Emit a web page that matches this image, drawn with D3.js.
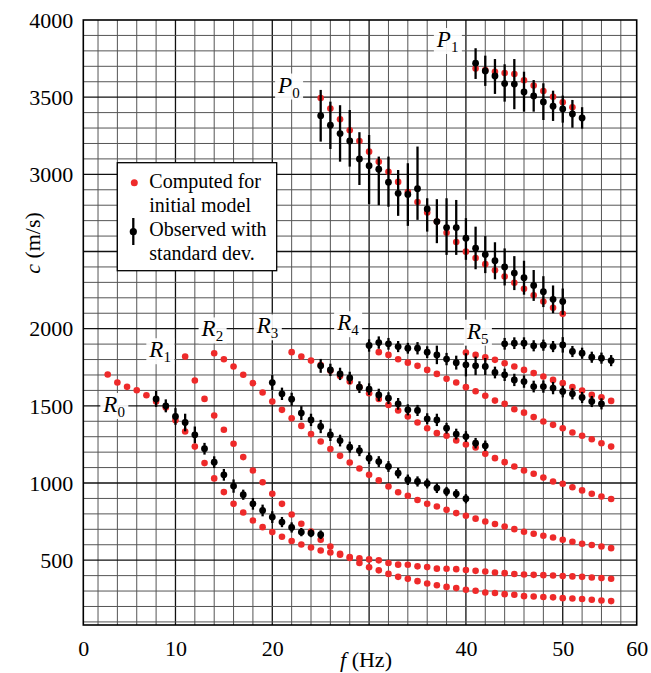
<!DOCTYPE html>
<html><head><meta charset="utf-8">
<script src="https://cdn.jsdelivr.net/npm/d3@7"></script>
<style>body{margin:0;background:#fff}svg{display:block}</style>
</head><body>
<svg id="chart" width="651" height="673"></svg>
<script>
// ---------- DATA (frequency in Hz, phase velocity c in m/s) ----------
const xTicks = [0, 10, 20, 40, 50, 60];
const yTicks = [500, 1000, 1500, 2000, 3000, 3500, 4000];

// computed for initial model (red), sampled every 1 Hz from the start frequency
const p0CompStart = 25;
const p0Comp = [3495,3426,3357,3286,3216,3147,3082,3017,2951,2886,2821,2752,2694,2622,2562,2499,2458,2418,2378,2338,2298,2258,2217,2176,2136,2096];
const p1CompStart = 41;
const p1Comp = [3685,3675,3665,3657,3650,3609,3575,3540,3503,3467,3434];
const r0CompStart = 3;
const r0Comp = [1703,1651,1623,1601,1569,1528,1489,1407,1334,1236,1129,1030,941,865,809,757,714,682,652,624,602,582,563,550,535,514,482,454,434,411,392,379,364,349,338,327,319,308,302,291,287,280,276,267,265,261,259,254,252,248,244,239,235];
const r1CompStart = 11;
const r1Comp = [1819,1664,1545,1437,1345,1254,1168,1081,1005,930,865,796,736,685,632,589,541,520,512,505,499,482,471,470,460,455,445,444,442,436,431,427,420,416,410,407,405,403,401,397,395,392,388,384,380];
const r2CompStart = 14;
const r2Comp = [1841,1802,1755,1701,1647,1586,1528,1474,1420,1370,1317,1269,1220,1176,1133,1094,1053,1017,977,940,917,890,865,848,826,805,788,769,751,734,718,701,684,671,658,647,632,619,606,598,589,578];
const r3CompStart = 22;
const r3Comp = [1848,1819,1793,1765,1728,1694,1657,1621,1582,1545,1506,1470,1431,1392,1355,1323,1306,1275,1250,1230,1189,1161,1135,1107,1081,1060,1035,1010,995,973,952,930,913,896];
const r4CompStart = 31;
const r4Comp = [1848,1830,1802,1780,1759,1733,1707,1675,1651,1621,1595,1565,1534,1513,1478,1456,1427,1399,1377,1355,1327,1306,1284,1258,1236];
const r5CompStart = 40;
const r5Comp = [1846,1830,1815,1798,1776,1755,1733,1712,1690,1668,1647,1621,1599,1571,1556,1532];

// observed with standard deviation (black): value, lower and upper end of bar
const p0ObsStart = 25;
const p0Obs   = [3380,3318,3264,3216,3100,3056,3033,2949,2877,2870,2907,2776,2694,2655,2655,2586,2521,2480,2440,2400,2360,2330,2280,2240,2190,2176];
const p0ObsLo = [3212,3164,3082,3050,2931,2808,2800,2790,2731,2666,2705,2629,2554,2478,2478,2446,2385,2360,2320,2280,2250,2220,2180,2140,2100,2090];
const p0ObsHi = [3547,3471,3448,3417,3273,3255,3115,3115,3028,3072,3180,2845,2839,2845,2834,2716,2661,2600,2560,2520,2470,2440,2380,2340,2280,2260];
const p1ObsStart = 41;
const p1Obs   = [3720,3670,3637,3588,3585,3534,3508,3469,3441,3424,3391,3365];
const p1ObsLo = [3618,3573,3521,3471,3422,3406,3406,3352,3346,3335,3302,3296];
const p1ObsHi = [3817,3769,3747,3713,3747,3665,3611,3590,3542,3510,3482,3435];
const r0ObsStart = 8;
const r0Obs   = [1545,1500,1431,1392,1312,1222,1135,1053,980,924,865,822,779,747,712,682,675,665];
const r0ObsSd = [52,42,54,57,54,38,38,38,43,33,38,38,38,33,33,27,26,28];
const r2ObsStart = 20;
const r2Obs   = [1651,1578,1543,1453,1409,1366,1312,1275,1232,1210,1161,1139,1107,1064,1021,1010,997,967,945,930,898];
const r2ObsSd = [48,40,42,45,40,43,40,38,36,36,38,35,35,34,34,33,32,32,30,30,30];
const r3ObsStart = 25;
const r3Obs   = [1759,1733,1707,1681,1621,1608,1571,1550,1513,1474,1470,1416,1409,1355,1317,1301,1258,1241];
const r3ObsSd = [45,40,40,40,38,38,40,38,38,36,36,36,40,35,35,35,34,34];
const r4ObsStart = 30;
const r4Obs   = [1891,1910,1902,1884,1873,1873,1848,1830,1803,1780,1766,1759,1755,1716,1701,1668,1657,1625,1625,1615,1593,1578,1554,1528,1513];
const r4ObsSd = [40,40,38,36,35,40,38,60,40,45,75,60,55,38,40,40,40,38,40,40,38,36,36,36,36];
const r5ObsStart = 44;
const r5Obs   = [1902,1906,1906,1889,1893,1884,1895,1852,1841,1815,1809,1793];
const r5ObsSd = [38,38,38,36,36,36,50,36,36,36,36,36];

const modeLabels = ["P","P","R","R","R","R","R","R"];
const modeSubs   = ["0","1","0","1","2","3","4","5"];
const labelF = [20.6, 37.0, 2.55, 7.3, 12.7, 18.4, 26.7, 40.1];
const labelC = [3530, 3825, 1460, 1815, 1950, 1970, 1990, 1935];

const legendTexts = ["Computed for", "initial model", "Observed with", "standard dev."];

// ---------- DRAWING ----------
const svg = d3.select("#chart");
const W = 651, H = 673;
const pL = 83.3, pR = 636.7, pT = 20, pB = 625;
const RED = "#ee2a2a";
const FONT = "'Liberation Serif', 'Times New Roman', serif";

const x = d3.scaleLinear().domain([0.48, 57.64]).range([pL, pR]).clamp(true);
const y = d3.scaleLinear().domain([80, 4000]).range([pB, pT]);

svg.append("rect").attr("width", W).attr("height", H).attr("fill", "#fff");

// grid
const g = svg.append("g");
const vLines = d3.range(2, 57, 2);
const hLines = d3.range(100, 4000, 100);
g.selectAll("line.v").data(vLines).join("line").attr("class", "v")
  .attr("x1", d => x(d)).attr("x2", d => x(d))
  .attr("y1", pT).attr("y2", pB)
  .attr("stroke", d => d % 10 === 0 ? "#111" : "#555")
  .attr("stroke-width", d => d % 10 === 0 ? 1.3 : 1);
g.selectAll("line.h").data(hLines).join("line").attr("class", "h")
  .attr("x1", pL).attr("x2", pR)
  .attr("y1", d => y(d)).attr("y2", d => y(d))
  .attr("stroke", d => d % 500 === 0 ? "#111" : "#555")
  .attr("stroke-width", d => d % 500 === 0 ? 1.3 : 1);

svg.append("rect").attr("x", pL).attr("y", pT)
  .attr("width", pR - pL).attr("height", pB - pT)
  .attr("fill", "none").attr("stroke", "#000").attr("stroke-width", 1.6);

// axes
const xa = svg.append("g").attr("transform", `translate(0,${pB})`)
  .call(d3.axisBottom(x).tickValues(xTicks).tickSize(0).tickFormat(d3.format("d")));
xa.select(".domain").remove();
xa.selectAll("text").attr("y", 31).attr("dy", 0)
  .attr("font-family", FONT).attr("font-size", 22).attr("fill", "#000");

const ya = svg.append("g").attr("transform", `translate(${pL},0)`)
  .call(d3.axisLeft(y).tickValues(yTicks).tickSize(0).tickFormat(d3.format("d")));
ya.select(".domain").remove();
ya.selectAll("text").attr("x", -10).attr("dy", "0.33em")
  .attr("font-family", FONT).attr("font-size", 22).attr("fill", "#000");

// axis titles
const xt = svg.append("text").attr("x", 366).attr("y", 667).attr("text-anchor", "middle")
  .attr("font-family", FONT).attr("font-size", 22);
xt.append("tspan").attr("font-style", "italic").text("f");
xt.append("tspan").text(" (Hz)");
const yt = svg.append("text").attr("transform", "translate(40,243) rotate(-90)")
  .attr("text-anchor", "middle").attr("font-family", FONT).attr("font-size", 22);
yt.append("tspan").attr("font-style", "italic").text("c");
yt.append("tspan").text(" (m/s)");

// mode labels with white patches
modeLabels.forEach((m, i) => {
  const lx = x(labelF[i]), ly = y(labelC[i]);
  svg.append("rect").attr("x", lx - 3).attr("y", ly - 19).attr("width", 28).attr("height", 26)
    .attr("fill", "#fff").attr("opacity", 0.92);
  const t = svg.append("text").attr("x", lx).attr("y", ly)
    .attr("font-family", FONT).attr("font-size", 23);
  t.append("tspan").attr("font-style", "italic").text(m);
  t.append("tspan").attr("dy", 5).attr("font-size", 15).text(modeSubs[i]);
});

// observed series
const observed = [
  {s: p0ObsStart, v: p0Obs, lo: p0ObsLo, hi: p0ObsHi},
  {s: p1ObsStart, v: p1Obs, lo: p1ObsLo, hi: p1ObsHi},
  {s: r0ObsStart, v: r0Obs, sd: r0ObsSd},
  {s: r2ObsStart, v: r2Obs, sd: r2ObsSd},
  {s: r3ObsStart, v: r3Obs, sd: r3ObsSd},
  {s: r4ObsStart, v: r4Obs, sd: r4ObsSd},
  {s: r5ObsStart, v: r5Obs, sd: r5ObsSd}
];
const computed = [
  {s: p0CompStart, v: p0Comp}, {s: p1CompStart, v: p1Comp},
  {s: r0CompStart, v: r0Comp}, {s: r1CompStart, v: r1Comp},
  {s: r2CompStart, v: r2Comp}, {s: r3CompStart, v: r3Comp},
  {s: r4CompStart, v: r4Comp}, {s: r5CompStart, v: r5Comp}
];

const redPts = [];
computed.forEach(sr => sr.v.forEach((c, i) => redPts.push({f: sr.s + i, c})));
const obsPts = [];
observed.forEach(sr => sr.v.forEach((c, i) => obsPts.push({
  f: sr.s + i, c,
  lo: sr.lo ? sr.lo[i] : c - sr.sd[i],
  hi: sr.hi ? sr.hi[i] : c + sr.sd[i]
})));

svg.append("g").selectAll("circle").data(redPts).join("circle")
  .attr("cx", d => x(d.f)).attr("cy", d => y(d.c)).attr("r", 3.3).attr("fill", RED);

const og = svg.append("g");
og.selectAll("line").data(obsPts).join("line")
  .attr("x1", d => x(d.f)).attr("x2", d => x(d.f))
  .attr("y1", d => y(d.lo)).attr("y2", d => y(d.hi))
  .attr("stroke", "#000").attr("stroke-width", 2.3);
og.selectAll("circle").data(obsPts).join("circle")
  .attr("cx", d => x(d.f)).attr("cy", d => y(d.c)).attr("r", 3.4).attr("fill", "#000");

// legend
const lg = svg.append("g");
lg.append("rect").attr("x", 117.3).attr("y", 162.7).attr("width", 159.4).attr("height", 108)
  .attr("fill", "#fff").attr("stroke", "#000").attr("stroke-width", 1.3);
lg.append("circle").attr("cx", 134.3).attr("cy", 182.7).attr("r", 3.5).attr("fill", RED);
lg.append("line").attr("x1", 133.3).attr("x2", 133.3).attr("y1", 218).attr("y2", 245)
  .attr("stroke", "#000").attr("stroke-width", 2.3);
lg.append("circle").attr("cx", 133.3).attr("cy", 231.7).attr("r", 3.6).attr("fill", "#000");
const lBase = [187.7, 211.7, 236, 260];
legendTexts.forEach((t, i) => lg.append("text").attr("x", 149.3).attr("y", lBase[i])
  .attr("font-family", FONT).attr("font-size", 20).text(t));
</script>
</body></html>
